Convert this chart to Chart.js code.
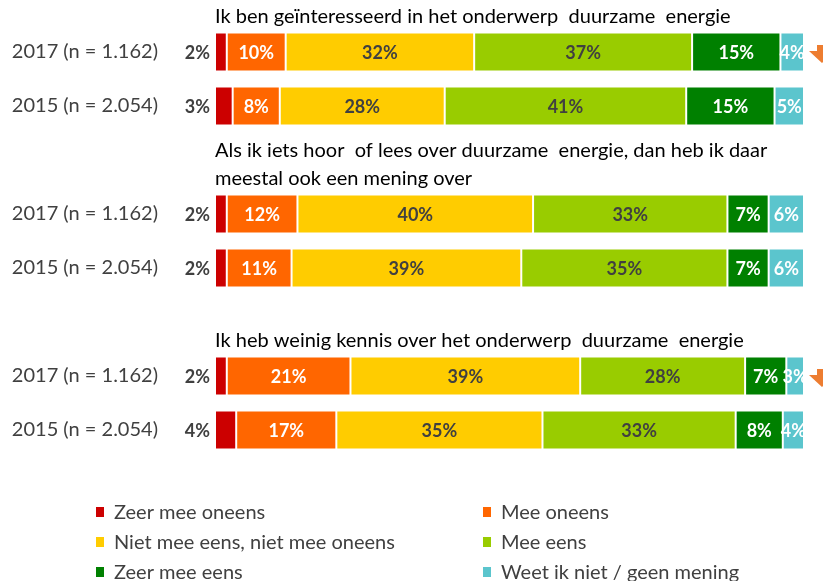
<!DOCTYPE html>
<html>
<head>
<meta charset="utf-8">
<script src="https://cdn.jsdelivr.net/npm/chart.js@4"></script>
<style>
    html, body { margin: 0; padding: 0; background: #fff; }
    #wrap { position: relative; width: 823px; height: 581px; }
</style>
</head>
<body>
<div id="wrap"><canvas id="chart"></canvas></div>
<script>
// Rows of the chart (blank rows make room for the statements)
const rowLabels = ['2017 (n = 1.162)', '2015 (n = 2.054)', '', '2017 (n = 1.162)', '2015 (n = 2.054)', '', '2017 (n = 1.162)', '2015 (n = 2.054)'];

// Answer categories and colours
const answers = ['Zeer mee oneens', 'Mee oneens', 'Niet mee eens, niet mee oneens', 'Mee eens', 'Zeer mee eens', 'Weet ik niet / geen mening'];
const colors = ['#CC0000', '#FF6600', '#FFCC00', '#99CC00', '#008000', '#5BC5CD'];
const labelColors = ['#404040', '#ffffff', '#404040', '#404040', '#ffffff', '#ffffff'];

// Percentages per answer (null = spacer row)
const zeerMeeOneens = [2, 3, null, 2, 2, null, 2, 3.6];
const meeOneens     = [10, 8, null, 12, 11, null, 21, 17];
const neutraal      = [32, 28, null, 40, 39, null, 39, 35];
const meeEens       = [37, 41, null, 33, 35, null, 28, 32.8];
const zeerMeeEens   = [15, 15, null, 7, 7, null, 7, 8];
const weetNiet      = [4, 5, null, 6, 6, null, 3, 3.6];

// Statements shown above each pair of bars
const statements = [
    ['Ik ben geïnteresseerd in het onderwerp  duurzame  energie'],
    ['Als ik iets hoor  of lees over duurzame  energie, dan heb ik daar', 'meestal ook een mening over'],
    ['Ik heb weinig kennis over het onderwerp  duurzame  energie']
];
const statementRows = [0, 3, 6];

// Rows flagged with a downward arrow
const trendDown = [true, false, false, false, false, false, true, false];

const FONT = "Lato, 'DejaVu Sans', sans-serif";

// Draws value labels, statements, arrows and the legend
const decorPlugin = {
    id: 'decor',
    afterDatasetsDraw(chart) {
        const ctx = chart.ctx;
        const area = chart.chartArea;
        ctx.save();
        ctx.font = 'bold 18px ' + FONT;
        ctx.textBaseline = 'middle';
        chart.data.datasets.forEach((ds, i) => {
            const meta = chart.getDatasetMeta(i);
            meta.data.forEach((bar, j) => {
                const v = ds.data[j];
                if (v == null) return;
                const text = Math.round(v) + '%';
                ctx.save();
                ctx.fillStyle = labelColors[i];
                if (i === 0) {
                    // smallest segment: label left of the bar
                    ctx.textAlign = 'right';
                    ctx.fillText(text, bar.base - 5, bar.y + 1);
                } else {
                    ctx.beginPath();
                    ctx.rect(area.left, area.top, area.width, area.height);
                    ctx.clip();
                    ctx.textAlign = 'center';
                    ctx.fillText(text, (bar.x + bar.base) / 2, bar.y + 1);
                }
                ctx.restore();
            });
        });
        ctx.restore();
    },
    afterDraw(chart) {
        const ctx = chart.ctx;
        const area = chart.chartArea;
        const yScale = chart.scales.y;
        ctx.save();

        // statements
        ctx.font = '20px ' + FONT;
        ctx.fillStyle = '#000';
        ctx.textAlign = 'left';
        ctx.textBaseline = 'middle';
        statements.forEach((lines, i) => {
            const yc = yScale.getPixelForValue(statementRows[i]);
            lines.forEach((line, k) => {
                ctx.fillText(line, area.left, yc - 35 - (lines.length - 1 - k) * 28);
            });
        });

        // orange down arrows at the right edge
        ctx.fillStyle = '#ED7D31';
        trendDown.forEach((flag, j) => {
            if (!flag) return;
            const cx = area.right + 18;
            const yc = yScale.getPixelForValue(j);
            ctx.beginPath();
            ctx.moveTo(cx - 5, yc - 7);
            ctx.lineTo(cx + 5, yc - 7);
            ctx.lineTo(cx + 5, yc - 1);
            ctx.lineTo(cx + 13, yc - 1);
            ctx.lineTo(cx, yc + 11);
            ctx.lineTo(cx - 13, yc - 1);
            ctx.lineTo(cx - 5, yc - 1);
            ctx.closePath();
            ctx.fill();
        });

        // legend in two columns
        ctx.font = '20px ' + FONT;
        ctx.textBaseline = 'middle';
        const colX = [96, 483];
        const top = area.bottom + 55;
        answers.forEach((name, i) => {
            const x = colX[i % 2];
            const y = top + Math.floor(i / 2) * 30;
            ctx.fillStyle = colors[i];
            ctx.fillRect(x, y - 5, 8, 10);
            ctx.fillStyle = '#404040';
            ctx.fillText(name, x + 18, y + 1);
        });
        ctx.restore();
    }
};

const seriesData = [zeerMeeOneens, meeOneens, neutraal, meeEens, zeerMeeEens, weetNiet];

new Chart(document.getElementById('chart'), {
    type: 'bar',
    data: {
        labels: rowLabels,
        datasets: answers.map((name, i) => ({
            label: name,
            data: seriesData[i],
            backgroundColor: colors[i],
            borderColor: '#ffffff',
            borderWidth: 1,
            borderSkipped: false,
            barPercentage: 0.72,
            categoryPercentage: 1.0
        }))
    },
    options: {
        indexAxis: 'y',
        responsive: true,
        maintainAspectRatio: false,
        animation: false,
        layout: { padding: { top: 25, right: 19, bottom: 124, left: 0 } },
        plugins: {
            legend: { display: false },
            tooltip: { enabled: false }
        },
        scales: {
            x: { stacked: true, min: 0, max: 100, display: false },
            y: {
                stacked: true,
                grid: { display: false, drawTicks: false },
                border: { display: false },
                ticks: {
                    color: '#404040',
                    padding: 57,
                    font: { family: FONT, size: 20 }
                },
                afterFit(scale) {
                    // fixed axis width, no extra top/bottom padding
                    scale.width = 215;
                    scale.paddingTop = 0;
                    scale.paddingBottom = 0;
                }
            }
        }
    },
    plugins: [decorPlugin]
});
</script>
</body>
</html>
